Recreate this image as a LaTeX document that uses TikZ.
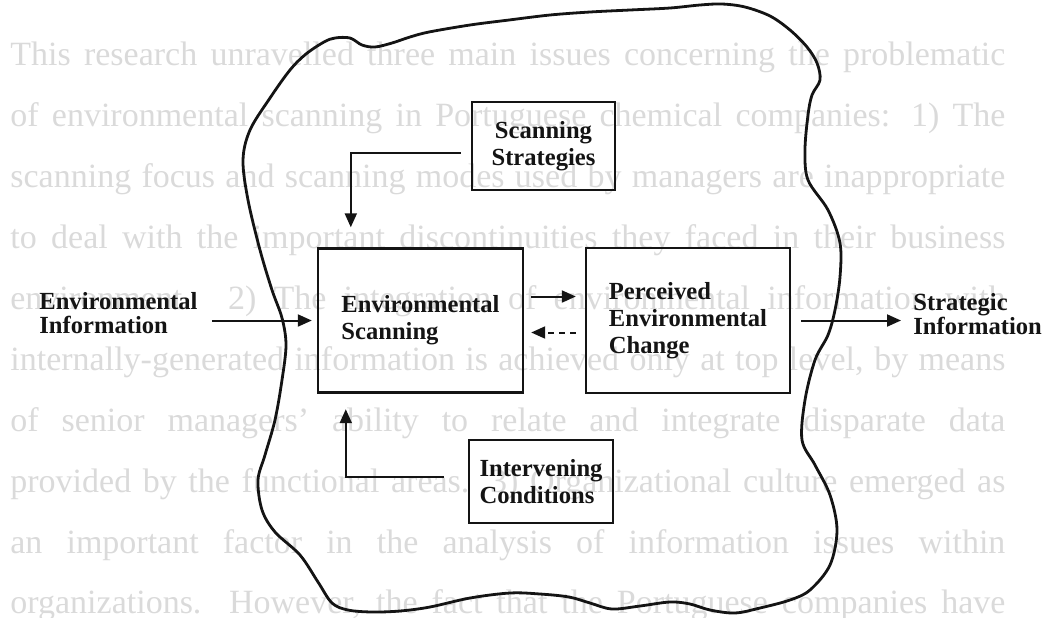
\documentclass[tikz,border=0pt]{standalone}
\usepackage{fontspec}
\setmainfont{Liberation Serif}
\usetikzlibrary{arrows.meta,positioning,calc}
\definecolor{Ink}{RGB}{20,20,20}
\definecolor{Bleed}{RGB}{218,218,218}
\tikzset{
  bgline/.style={anchor=base west,inner sep=0pt,text=Bleed,font=\fontsize{17}{20}\selectfont},
  blk/.style={draw=Ink,line width=1.2pt,font=\fontsize{12.3}{13.5}\selectfont\bfseries,align=center,text=Ink},
  lbl/.style={font=\fontsize{12.3}{12}\selectfont\bfseries,align=left,text=Ink,inner sep=4pt},
  arr/.style={-{Triangle[length=7pt,width=6pt]},draw=Ink,line width=1pt},
  dasharr/.style={arr,dash pattern=on 3pt off 2.5pt},
  edge/.style={draw=Ink,line width=1.4pt,line join=round}
}

\begin{document}
\begin{tikzpicture}[x=0.5pt,y=-0.5pt]
\useasboundingbox (0,0) rectangle (1050,617);

% show-through of the page behind
\node[bgline] (txt1) at (10,65) {\makebox[497.5pt][s]{This research unravelled three main issues concerning the problematic}};
\node[bgline] (txt2) at (10,126) {\makebox[497.5pt][s]{of environmental scanning in Portuguese chemical companies: 1) The}};
\node[bgline] (txt3) at (10,187) {\makebox[497.5pt][s]{scanning focus and scanning modes used by managers are inappropriate}};
\node[bgline] (txt4) at (10,248) {\makebox[497.5pt][s]{to deal with the important discontinuities they faced in their business}};
\node[bgline] (txt5) at (10,309) {\makebox[497.5pt][s]{environment. 2) The integration of environmental information with}};
\node[bgline] (txt6) at (10,370) {\makebox[497.5pt][s]{internally-generated information is achieved only at top level, by means}};
\node[bgline] (txt7) at (10,431) {\makebox[497.5pt][s]{of senior managers' ability to relate and integrate disparate data}};
\node[bgline] (txt8) at (10,492) {\makebox[497.5pt][s]{provided by the functional areas. 3) Organizational culture emerged as}};
\node[bgline] (txt9) at (10,553) {\makebox[497.5pt][s]{an important factor in the analysis of information issues within}};
\node[bgline] (txt10) at (10,613) {\makebox[497.5pt][s]{organizations. However, the fact that the Portuguese companies have}};

% environment boundary
\draw[edge] plot[smooth cycle,tension=0.55] coordinates {
  (324,42) (335,38) (350,38) (362,45) (375,47) (392,43) (410,37) (429,32)
  (470,25) (509,20) (550,15) (590,12) (630,10) (670,8) (700,5) (722,4)
  (745,7) (770,16) (790,30) (807,47) (817,63) (820,80) (812,95) (808,115)
  (805,150) (808,180) (828,210) (840,243) (840,277) (835,310) (828,335)
  (815,360) (805,400) (802,440) (815,465) (830,495) (837,530) (830,565)
  (810,590) (790,600) (760,608) (735,613) (710,610) (690,604) (670,602)
  (640,606) (612,609) (590,603) (569,597) (540,594) (510,593) (470,598)
  (430,607) (400,611) (372,612) (348,610) (332,603) (318,582) (300,555)
  (275,532) (262,510) (258,480) (265,455) (275,420) (282,380) (286,345)
  (282,318) (272,290) (260,250) (248,200) (243,160) (250,130) (270,98)
  (290,70) (306,54)};

\node[blk,minimum width=102.5pt,minimum height=72pt,align=left] (envscan) at (420.5,320.5) {Environmental\\Scanning};
\node[blk,minimum width=102pt,minimum height=72.5pt,align=left] (perchange) at (688,320.5) {Perceived\\Environmental\\Change};
\node[blk,minimum width=71.5pt,minimum height=44pt] (scanstrat) at (543.5,146) {Scanning\\Strategies};
\node[blk,minimum width=72pt,minimum height=41.5pt,align=left] (intcond) at (541,481.5) {Intervening\\Conditions};

\node[lbl,anchor=west] (envinfo) at (31,313) {Environmental\\Information};
\node[lbl,anchor=west] (stratinfo) at (905,314) {Strategic\\Information};

\draw[arr] ([xshift=3pt]envinfo.east |- envscan.west) -- ([xshift=-2.5pt]envscan.west);
\draw[arr] ([xshift=5pt]perchange.east) -- ([xshift=-2pt]stratinfo.west |- perchange.east);
\draw[arr] ([shift={(3.5pt,12pt)}]envscan.east) -- ([shift={(-4.5pt,12pt)}]perchange.west);
\draw[dasharr] ([shift={(-4.5pt,-6pt)}]perchange.west) -- ([shift={(3.5pt,-6pt)}]envscan.east);
\draw[arr] ([shift={(-5pt,-3.5pt)}]scanstrat.west) -| ([xshift=17pt,yshift=10pt]envscan.north west);
\draw[arr] ([shift={(-12pt,2.25pt)}]intcond.west) -| ([xshift=14.5pt,yshift=-7.75pt]envscan.south west);
\end{tikzpicture}
\end{document}
